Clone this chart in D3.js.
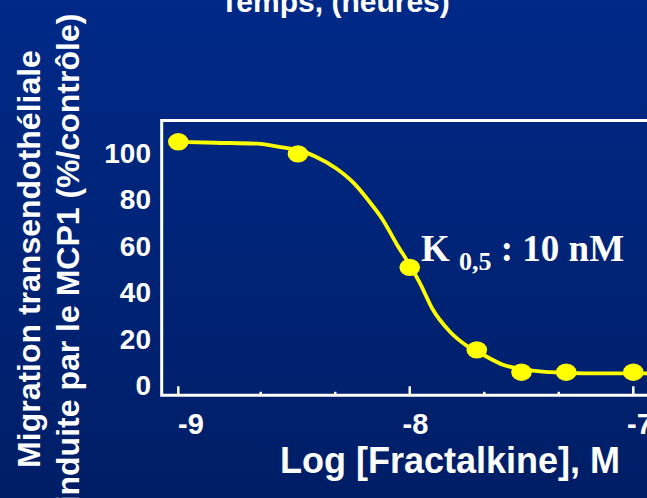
<!DOCTYPE html>
<html>
<head>
<meta charset="utf-8">
<script src="https://cdn.jsdelivr.net/npm/d3@7"></script>
<style>
  html, body { margin: 0; padding: 0; overflow: hidden; }
  svg { display: block; }
</style>
</head>
<body>
<svg></svg>
<script>
//////////////////////////////////////////////////////////////////////////////
// data
//////////////////////////////////////////////////////////////////////////////
// measured points: log [fractalkine] (M) and migration (% of control)
var logConc = [-9, -8.5, -8, -7.7, -7.5, -7.3, -7];
var migration = [104.6, 99.4, 50.6, 15.1, 5.5, 5.5, 5.5];

// fitted sigmoid
var fitX = [-9, -8.85, -8.68, -8.57, -8.5, -8.42, -8.33, -8.25, -8.18, -8.12,
            -8.06, -8.0, -7.95, -7.9, -7.82, -7.75, -7.67, -7.58, -7.5, -7.37,
            -7.22, -6.9];
var fitY = [104.6, 104.2, 103.8, 102.2, 101.1, 98.2, 93.2, 86.8, 78.8, 71.0,
            60.9, 51.6, 43.0, 33.0, 22.9, 17.2, 12.9, 8.6, 6.8, 5.5,
            5.0, 5.0];

// axis ticks
var yTicks = [0, 20, 40, 60, 80, 100];
var xMajorTicks = [-9, -8, -7];
var xMinorTicks = [-8 - 2/3, -8 - 1/3, -7 - 2/3, -7 - 1/3];
var xTickLabels = ["-9", "-8", "-7"];

var width = 647, height = 498;

var svg = d3.select('svg')
            .attr('width', width)
            .attr('height', height);

// dark blue slide background
var grad = svg.append('defs').append('linearGradient')
    .attr('id', 'bg')
    .attr('x1', 0).attr('y1', 0).attr('x2', 0).attr('y2', 1);
grad.append('stop').attr('offset', '0%').attr('stop-color', '#002988');
grad.append('stop').attr('offset', '100%').attr('stop-color', '#001e66');

svg.append('rect')
   .attr('width', width)
   .attr('height', height)
   .attr('fill', 'url(#bg)');

// Scales - the first decade is a bit squeezed on the slide
var xScale = d3.scaleLinear()
    .domain([-9, -8 - 2/3, -7])
    .range([178.3, 260.7, 633.3]);

// tick labels sit slightly right of their ticks
var xLabelScale = d3.scaleLinear()
    .domain([-9, -7])
    .range([191, 640]);

var yScale = d3.scaleLinear()
    .domain([0, 100])
    .range([385, 152.5]);

// plot frame (right side runs off the slide)
var frameLeft = 161.7, frameTop = 120.5, frameBottom = 395.3;
svg.append('path')
   .attr('d', 'M' + (width + 20) + ',' + frameTop + 'H' + frameLeft +
              'V' + frameBottom + 'H' + (width + 20))
   .attr('fill', 'none')
   .attr('stroke', '#ffffff')
   .attr('stroke-width', 3);

// ticks point up into the plot
svg.append('g')
   .selectAll('line')
   .data(xMajorTicks)
   .enter()
   .append('line')
   .attr('x1', function(d) { return xScale(d); })
   .attr('x2', function(d) { return xScale(d); })
   .attr('y1', frameBottom)
   .attr('y2', frameBottom - 9)
   .attr('stroke', '#ffffff')
   .attr('stroke-width', 2.5);

svg.append('g')
   .selectAll('line')
   .data(xMinorTicks)
   .enter()
   .append('line')
   .attr('x1', function(d) { return xScale(d); })
   .attr('x2', function(d) { return xScale(d); })
   .attr('y1', frameBottom)
   .attr('y2', frameBottom - 3.5)
   .attr('stroke', '#ffffff')
   .attr('stroke-width', 2.5);

// X tick labels
svg.append('g')
   .selectAll('text')
   .data(xMajorTicks)
   .enter()
   .append('text')
   .attr('x', function(d) { return xLabelScale(d); })
   .attr('y', 434)
   .attr('text-anchor', 'middle')
   .attr('fill', '#ffffff')
   .attr('font-family', 'Liberation Sans, Arial, sans-serif')
   .attr('font-weight', 'bold')
   .attr('font-size', '29px')
   .text(function(d, i) { return xTickLabels[i]; });

// Y tick labels (no tick marks on this axis)
svg.append('g')
   .selectAll('text')
   .data(yTicks)
   .enter()
   .append('text')
   .attr('x', 151)
   .attr('y', function(d) { return yScale(d); })
   .attr('dy', '0.36em')
   .attr('text-anchor', 'end')
   .attr('fill', '#ffffff')
   .attr('font-family', 'Liberation Sans, Arial, sans-serif')
   .attr('font-weight', 'bold')
   .attr('font-size', '28px')
   .text(function(d) { return d; });

// fitted curve
var line = d3.line()
    .x(function(d) { return xScale(d[0]); })
    .y(function(d) { return yScale(d[1]); })
    .curve(d3.curveMonotoneX);

svg.append('path')
   .datum(d3.zip(fitX, fitY))
   .attr('d', line)
   .attr('fill', 'none')
   .attr('stroke', '#ffff00')
   .attr('stroke-width', 3.8);

// data points
svg.append('g')
   .selectAll('ellipse')
   .data(d3.zip(logConc, migration))
   .enter()
   .append('ellipse')
   .attr('cx', function(d) { return xScale(d[0]); })
   .attr('cy', function(d) { return yScale(d[1]); })
   .attr('rx', 10.3)
   .attr('ry', 8.7)
   .attr('fill', '#ffff00');

// K0,5 annotation
var kLabel = svg.append('text')
   .attr('x', 421)
   .attr('y', 261)
   .attr('fill', '#ffffff')
   .attr('font-family', 'Liberation Serif, Times New Roman, serif')
   .attr('font-weight', 'bold')
   .attr('font-size', '37px');
kLabel.append('tspan').text('K ');
kLabel.append('tspan')
   .attr('font-size', '26px')
   .attr('dy', 9)
   .text('0,5');
kLabel.append('tspan')
   .attr('dy', -9)
   .text(' : 10 nM');

// X axis title
svg.append('text')
   .attr('x', 450)
   .attr('y', 473)
   .attr('text-anchor', 'middle')
   .attr('fill', '#ffffff')
   .attr('font-family', 'Liberation Sans, Arial, sans-serif')
   .attr('font-weight', 'bold')
   .attr('font-size', '36px')
   .text('Log [Fractalkine], M');

// Y axis title, two lines
var yTitle = ['Migration transendothéliale', 'induite par le MCP1 (%/contrôle)'];
var yTitleX = [40, 79];
svg.append('g')
   .selectAll('text')
   .data(yTitle)
   .enter()
   .append('text')
   .attr('transform', function(d, i) { return 'translate(' + yTitleX[i] + ',259) rotate(-90)'; })
   .attr('text-anchor', 'middle')
   .attr('fill', '#ffffff')
   .attr('font-family', 'Liberation Sans, Arial, sans-serif')
   .attr('font-weight', 'bold')
   .attr('font-size', '32px')
   .text(function(d) { return d; });

// title of the previous panel, cut by the top edge
svg.append('text')
   .attr('x', 335)
   .attr('y', 12)
   .attr('text-anchor', 'middle')
   .attr('fill', '#ffffff')
   .attr('font-family', 'Liberation Sans, Arial, sans-serif')
   .attr('font-weight', 'bold')
   .attr('font-size', '30px')
   .text('Temps, (heures)');
</script>
</body>
</html>
